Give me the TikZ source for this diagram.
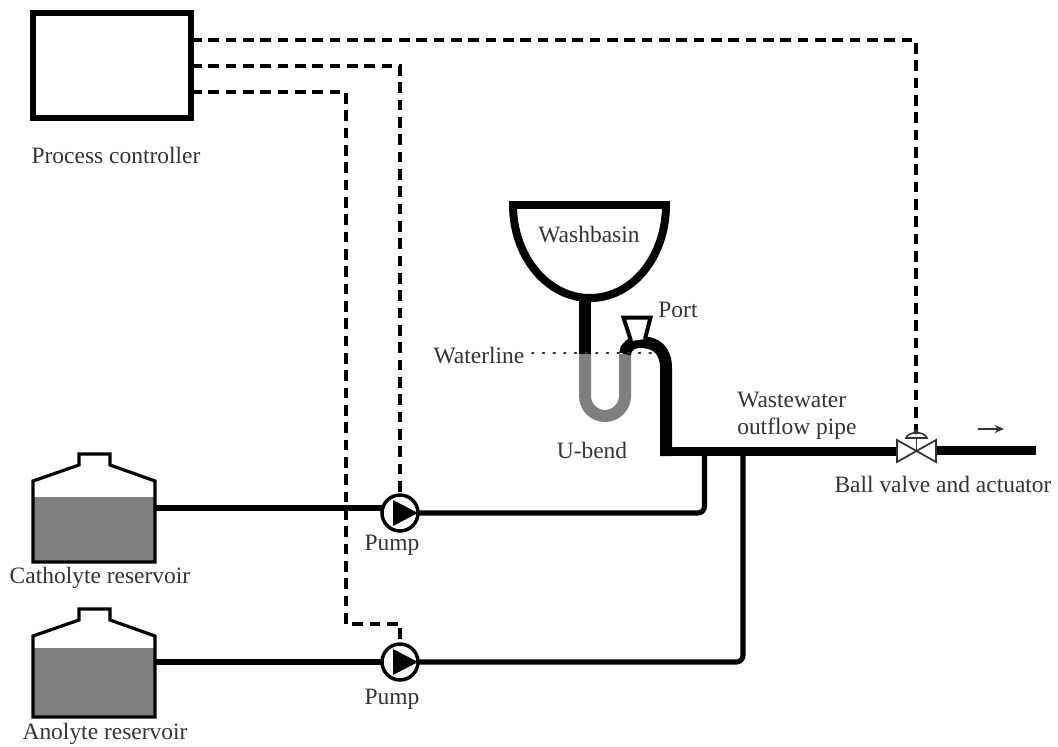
\documentclass[tikz,border=0pt]{standalone}
\usetikzlibrary{arrows.meta}
\usepackage{fontspec}
\setmainfont{Liberation Serif}
\definecolor{liq}{HTML}{7F7F7F}
\definecolor{txt}{HTML}{333333}
\tikzset{
  lbl/.style={text=txt,inner sep=0pt,font=\fontsize{17.6}{21}\selectfont},
  signal/.style={line width=2.7pt,dash pattern=on 8pt off 5pt,black},
  pipethin/.style={line width=3.8pt,black,rounded corners=5pt},
  pipemain/.style={line width=6.75pt,black},
  pipefat/.style={line width=9pt,black},
  pumpnode/.style={circle,draw=black,fill=white,line width=2.6pt,minimum size=27pt,inner sep=0pt,outer sep=0pt},
  liquid/.style={rectangle,fill=liq,inner sep=0pt,outer sep=0pt},
  tankwall/.style={line width=2.4pt,black,line join=miter},
}
\begin{document}
\begin{tikzpicture}[x=0.75pt,y=-0.75pt]
\useasboundingbox (0,0) rectangle (1058,747);
% controller
\node[rectangle,draw=black,line width=4.2pt,minimum width=118.5pt,minimum height=78.75pt,inner sep=0pt,outer sep=0pt] (ctrl) at (112,65.5) {};
\node[lbl] (ctrllbl) at (116,155) {Process controller};
% tanks
\node[liquid,minimum width=91.5pt,minimum height=48.75pt] (cat) at (94,529.5) {};
\node[liquid,minimum width=91.5pt,minimum height=51.75pt] (ano) at (94,682.5) {};
\draw[tankwall] (33,562) -- (33,481) -- (79,465) -- (79,454) -- (110,454) -- (110,465) -- (155,481) -- (155,562) -- cycle;
\draw[tankwall] (33,717) -- (33,636) -- (79,620) -- (79,609) -- (110,609) -- (110,620) -- (155,636) -- (155,717) -- cycle;
\node[lbl] (catlbl) at (100,578) {Catholyte reservoir};
\node[lbl] (anolbl) at (105,734) {Anolyte reservoir};
% named ends
\coordinate (catout) at (155,508);
\coordinate (anoout) at (155,662);
\coordinate (j1) at (704.5,452);
\coordinate (j2) at (743,452);
\coordinate (bendtop) at (625,354);
\coordinate (main) at (666,451.5);
\coordinate (mainstart) at (660,451.5);
\coordinate (mainend) at (1036,450.5);
\coordinate (fo) at (585,354);
\coordinate (drain) at (585,297);
% valve and pumps
\node[pumpnode] (p1) at (400,513) {};
\node[pumpnode] (p2) at (400,662) {};
\coordinate (vl) at (897,451.5);
\coordinate (vr) at (936,450.5);
\coordinate (vc) at (916.5,451);
\coordinate (vtop) at (916,433);
% pipes
\draw[pipethin] (catout) -- (catout -| p1.west);
\draw[pipethin] (anoout) -- (p2.west);
\draw[pipethin] (p1.east) -| (j1);
\draw[pipethin] (p2.east) -| (j2);
\draw[pipemain] (mainstart) -- (vl);
\draw[pipemain] (vr) -- (mainend);
\fill[black] (393,500) -- (418,513) -- (393,526) -- cycle;
\fill[black] (393,649) -- (418,662) -- (393,675) -- cycle;
% signals
\draw[signal] (ctrl.east |- 0,40) -- (916,40) -- (vtop);
\draw[signal] (ctrl.east |- 0,66) -- (400,66) -- (p1.north);
\draw[signal] (ctrl.east |- 0,92) -- (346,92) -- (346,624) -- (400,624) -- (p2.north);
% valve
\draw[line width=1.3pt,draw=txt,fill=white,line join=miter] (897,440) -- (936,462) -- (936,440) -- (897,462) -- cycle;
\draw[line width=1.2pt,draw=txt] (vc) -- (916.5,437);
\draw[line width=1.2pt,draw=txt,fill=white] (906,438) .. controls (908,431) and (925,431) .. (927,438) -- cycle;
\fill[txt] (916,432) circle (1.8pt);
\draw[-{Stealth[length=7pt,width=6pt]},line width=1.1pt,txt] (978,429) -- (1004,429);
% U-bend and outlet
\draw[line width=9pt,liq] (fo) -- (585,396) .. controls (585,407) and (594,416) .. (605,416) .. controls (616,416) and (625,407) .. (625,396) -- (bendtop);
\draw[pipefat] (drain) -- (fo);
\draw[pipefat] (bendtop) .. controls (625,347) and (632,342) .. (640,342) .. controls (656,342) and (666,350) .. (666,368) -- (main |- 0,456);
% port
\draw[line width=3pt,black,fill=white,line join=miter] (631,341) -- (623.5,317.5) -- (650.5,317.5) -- (645,339);
% basin
\draw[line width=6pt,black,line join=miter] (509,204.5) -- (670,204.5);
\draw[line width=6pt,black] (513,205) .. controls (513,256) and (547,298) .. (590,298) .. controls (633,298) and (666,256) .. (666,205);
% waterline
\draw[line width=1.4pt,dash pattern=on 1.3pt off 6.7pt,line cap=round,draw=txt] (532,353) -- (655,353);
% labels
\node[lbl] (wash) at (589,235) {Washbasin};
\node[lbl] (port) at (678,310) {Port};
\node[lbl] (wl) at (479,356) {Waterline};
\node[lbl] (ub) at (592,450) {U-bend};
\node[lbl,anchor=west] (ww1) at (737,400) {Wastewater};
\node[lbl,anchor=west] (ww2) at (737,429) {outflow pipe};
\node[lbl] (bv) at (943,484) {Ball valve and actuator};
\node[lbl] (pl1) at (392,545) {Pump};
\node[lbl] (pl2) at (392,699) {Pump};
\end{tikzpicture}
\end{document}
